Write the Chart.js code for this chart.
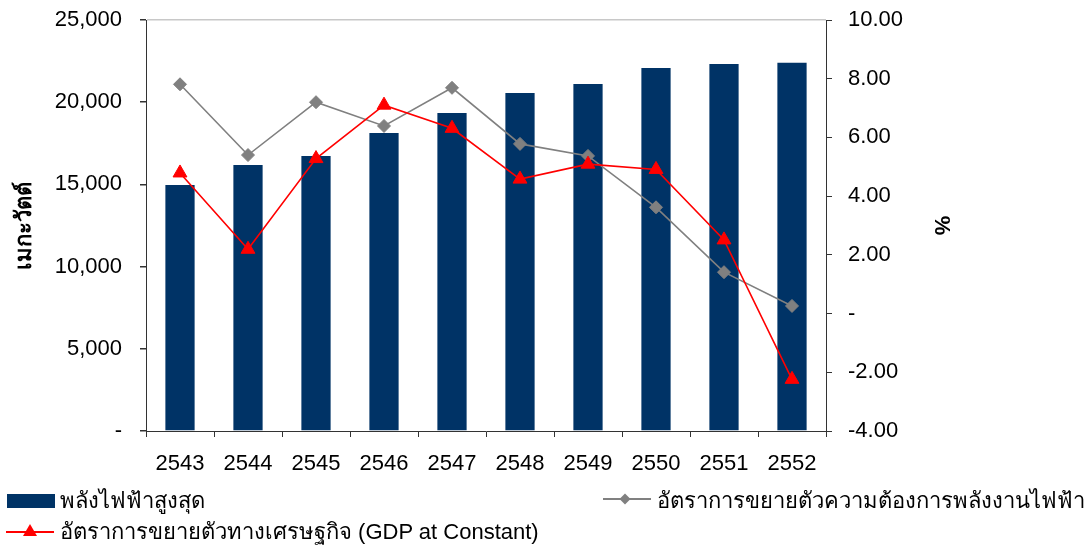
<!DOCTYPE html>
<html>
<head>
<meta charset="utf-8">
<script src="https://cdn.jsdelivr.net/npm/chart.js@4.4.1/dist/chart.umd.min.js"></script>
<style>
  html, body { margin: 0; padding: 0; background: #fff; }
  #wrap { position: relative; width: 1089px; height: 545px; }
  #c { position: absolute; left: 0; top: 0; }
  .lg { position: absolute; font-family: "Liberation Sans", Arial, sans-serif; font-size: 22px; color: #000; white-space: nowrap; line-height: 26px; }
  .sw { position: absolute; }
</style>
</head>
<body>
<div id="wrap">
  <canvas id="c" width="1089" height="545"></canvas>
</div>
<script>
const categories = ['2543','2544','2545','2546','2547','2548','2549','2550','2551','2552'];
const peakPower = [14960, 16180, 16730, 18130, 19340, 20560, 21110, 22080, 22320, 22400];
const demandGrowth = [7.81, 5.40, 7.20, 6.39, 7.69, 5.78, 5.37, 3.62, 1.41, 0.26];
const gdpGrowth = [4.79, 2.19, 5.28, 7.10, 6.31, 4.58, 5.09, 4.91, 2.51, -2.24];
const seriesLabels = ['พลังไฟฟ้าสูงสุด', 'อัตราการขยายตัวความต้องการพลังงานไฟฟ้า', 'อัตราการขยายตัวทางเศรษฐกิจ (GDP at Constant)'];
const leftTitle = 'เมกะวัตต์';
const rightTitle = '%';

const FONT = '"Liberation Sans", Arial, sans-serif';
const AXIS = '#333333';

const chart = new Chart(document.getElementById('c'), {
  data: {
    labels: categories,
    datasets: [
      { type: 'line', label: seriesLabels[2], data: gdpGrowth, yAxisID: 'y1', order: 0,
        borderColor: '#ff0000', backgroundColor: '#ff0000', borderWidth: 1.6,
        pointStyle: 'triangle', pointRadius: 8, pointHoverRadius: 8, pointBorderWidth: 1, tension: 0 },
      { type: 'line', label: seriesLabels[1], data: demandGrowth, yAxisID: 'y1', order: 1,
        borderColor: '#808080', backgroundColor: '#808080', borderWidth: 1.6,
        pointStyle: 'rectRot', pointRadius: 6.5, pointHoverRadius: 6.5, pointBorderWidth: 1, tension: 0 },
      { type: 'bar', label: seriesLabels[0], data: peakPower, yAxisID: 'y', order: 2,
        backgroundColor: '#003366', borderWidth: 0, categoryPercentage: 1, barPercentage: 0.43 }
    ]
  },
  options: {
    responsive: false,
    animation: false,
    devicePixelRatio: 1,
    layout: { padding: { left: 0, right: 131, top: 20, bottom: 0 } },
    plugins: { legend: { display: false }, tooltip: { enabled: false } },
    scales: {
      x: {
        offset: true,
        grid: { offset: true, drawOnChartArea: false, drawTicks: true, tickLength: 6, tickColor: AXIS, tickWidth: 1 },
        border: { display: true, color: AXIS, width: 1 },
        ticks: { font: { family: FONT, size: 22 }, color: '#000', padding: 14, maxRotation: 0 },
        afterFit: s => { s.height = 114; }
      },
      y: {
        position: 'left', min: 0, max: 25000,
        grid: { drawOnChartArea: true, color: c => (c.tick && c.tick.value === 25000) ? '#c8c8c8' : 'rgba(0,0,0,0)',
                drawTicks: true, tickLength: 6, tickColor: AXIS, lineWidth: 1.5 },
        border: { display: true, color: AXIS, width: 1 },
        ticks: { stepSize: 5000, font: { family: FONT, size: 22 }, color: '#000', padding: 18,
                 callback: v => v === 0 ? '-' : v.toLocaleString('en-US') },
        title: { display: true, text: leftTitle, font: { family: FONT, size: 22, weight: 'bold' }, color: '#000', padding: { top: 12, bottom: 0 } },
        afterFit: s => { s.width = 146; s.paddingTop = 0; s.paddingBottom = 0; }
      },
      y1: {
        position: 'right', min: -4, max: 10,
        grid: { drawOnChartArea: false, drawTicks: true, tickLength: 6, tickColor: AXIS },
        border: { display: true, color: AXIS, width: 1 },
        ticks: { stepSize: 2, font: { family: FONT, size: 22 }, color: '#000', padding: 16,
                 callback: v => v === 0 ? '-' : v.toFixed(2) },
        title: { display: true, text: rightTitle, font: { family: FONT, size: 22, weight: 'bold' }, color: '#000', padding: { top: 4, bottom: 4 } },
        afterFit: s => { s.width = 132; s.paddingTop = 0; s.paddingBottom = 0; }
      }
    }
  }
});

// HTML legend built from dataset definitions
const wrap = document.getElementById('wrap');
function addText(txt, x, yc) {
  const d = document.createElement('div');
  d.className = 'lg'; d.textContent = txt;
  d.style.left = x + 'px'; d.style.top = (yc - 13) + 'px';
  wrap.appendChild(d);
}
function addSwatch(x, yc, kind, color) {
  const cv = document.createElement('canvas');
  cv.width = 52; cv.height = 20; cv.className = 'sw';
  cv.style.left = x + 'px'; cv.style.top = (yc - 10) + 'px';
  const g = cv.getContext('2d');
  if (kind === 'box') {
    g.fillStyle = color; g.fillRect(1, 3, 48, 14);
  } else {
    g.strokeStyle = color; g.lineWidth = 2;
    g.beginPath(); g.moveTo(1, 10); g.lineTo(49, 10); g.stroke();
    g.fillStyle = color;
    if (kind === 'diamond') {
      g.beginPath(); g.moveTo(23, 4.5); g.lineTo(28.5, 10); g.lineTo(23, 15.5); g.lineTo(17.5, 10); g.closePath(); g.fill();
    } else {
      g.beginPath(); g.moveTo(25, 2); g.lineTo(32, 14); g.lineTo(18, 14); g.closePath(); g.fill();
    }
  }
  wrap.appendChild(cv);
}
const ds = chart.data.datasets;
addSwatch(6, 501, 'box', ds[2].backgroundColor);
addText(ds[2].label, 60, 501);
addSwatch(602, 499, 'diamond', ds[1].borderColor);
addText(ds[1].label, 657, 501);
addSwatch(5, 532, 'triangle', ds[0].borderColor);
addText(ds[0].label, 60, 532);
</script>
</body>
</html>
